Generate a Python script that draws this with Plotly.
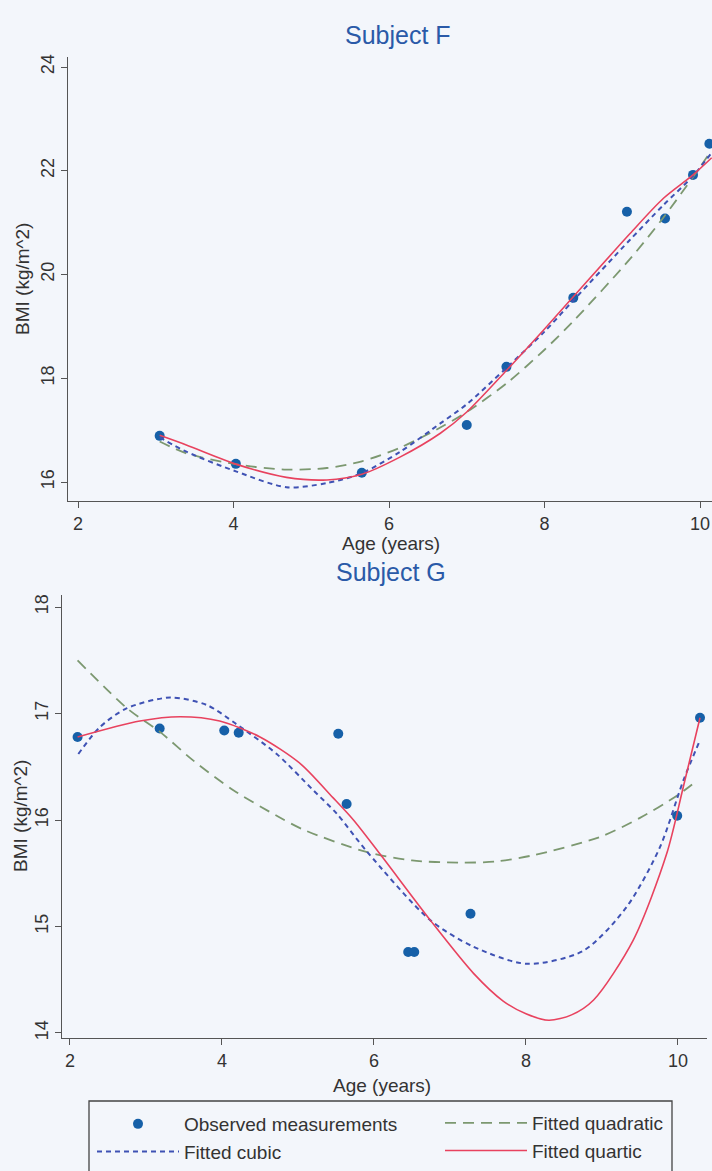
import plotly.graph_objects as go

# ---------------- data ----------------
# Subject F observed
f_age = [3.05, 4.03, 5.65, 7.00, 7.51, 8.37, 9.06, 9.55, 9.91, 10.12]
f_bmi = [16.89, 16.35, 16.18, 17.10, 18.22, 19.55, 21.21, 21.08, 21.92, 22.52]

# Subject F fitted curves (sampled along the drawn curves)
f_fit_age = [3.05, 3.4, 4.04, 4.68, 5.2, 5.65, 6.14, 6.66, 7.0, 7.51, 8.0, 8.37, 9.1, 9.53, 9.91, 10.15]
f_quad = [16.78, 16.55, 16.34, 16.24, 16.27, 16.40, 16.66, 17.05, 17.35, 17.90, 18.55, 19.10, 20.30, 21.10, 21.88, 22.40]
f_cubic = [16.86, 16.58, 16.20, 15.90, 15.98, 16.17, 16.58, 17.13, 17.50, 18.20, 18.90, 19.50, 20.67, 21.34, 21.90, 22.35]
f_quart = [16.90, 16.71, 16.34, 16.09, 16.04, 16.15, 16.48, 16.94, 17.35, 18.15, 18.95, 19.57, 20.79, 21.47, 21.92, 22.25]

# Subject G observed
g_age = [2.10, 3.18, 4.03, 4.22, 5.53, 5.64, 6.45, 6.53, 7.27, 9.99, 10.29]
g_bmi = [16.78, 16.86, 16.84, 16.82, 16.81, 16.15, 14.76, 14.76, 15.12, 16.04, 16.96]

# Subject G fitted curves
g_quad_age = [2.1, 2.75, 3.18, 3.62, 4.15, 4.72, 5.07, 5.9, 6.5, 7.13, 7.6, 8.1, 8.97, 9.5, 9.99, 10.25]
g_quad = [17.50, 17.05, 16.83, 16.56, 16.28, 16.04, 15.91, 15.70, 15.62, 15.60, 15.61, 15.67, 15.84, 16.02, 16.23, 16.37]

g_cubic_age = [2.11, 2.39, 2.75, 3.32, 3.8, 4.19, 4.72, 5.2, 5.51, 5.9, 6.74, 7.31, 8.01, 8.75, 9.32, 9.76, 10.07, 10.29]
g_cubic = [16.62, 16.87, 17.05, 17.15, 17.08, 16.90, 16.62, 16.28, 16.06, 15.71, 15.06, 14.81, 14.65, 14.77, 15.18, 15.74, 16.37, 16.75]

g_quart_age = [2.1, 2.92, 3.45, 3.97, 4.5, 5.03, 5.46, 5.73, 6.08, 6.74, 7.31, 7.7, 8.0, 8.3, 8.6, 8.89, 9.41, 9.85, 10.07, 10.29]
g_quart = [16.78, 16.93, 16.97, 16.93, 16.78, 16.53, 16.21, 16.00, 15.68, 15.06, 14.56, 14.30, 14.18, 14.12, 14.17, 14.31, 14.87, 15.68, 16.31, 16.96]

f_xticks = [2, 4, 6, 8, 10]
f_yticks = [16, 18, 20, 22, 24]
g_xticks = [2, 4, 6, 8, 10]
g_yticks = [14, 15, 16, 17, 18]

# ---------------- styling ----------------
W, H = 712, 1171
BG = "#f3f6fb"
FONT = "Liberation Sans, Arial, sans-serif"
MARK = "#1660a8"
QUAD = "#7c9870"
CUBIC = "#3f52b4"
QUART = "#e8425e"
AXC = "#555555"
TXT = "#333333"
TITLE = "#2a5aa8"


def px_x(p):
    return p / W


def px_y(p):
    return 1 - p / H


fig = go.Figure()


def add_panel(ax, obs_x, obs_y, qx, qy, cx, cy, rx, ry, legend):
    xa = "x" if ax == 1 else "x%d" % ax
    ya = "y" if ax == 1 else "y%d" % ax
    fig.add_trace(go.Scatter(x=obs_x, y=obs_y, mode="markers", name="Observed measurements",
                             marker=dict(color=MARK, size=10), xaxis=xa, yaxis=ya,
                             showlegend=legend, legend="legend"))
    fig.add_trace(go.Scatter(x=qx, y=qy, mode="lines", name="Fitted quadratic",
                             line=dict(color=QUAD, width=1.8, dash="11px,7px", shape="spline", smoothing=0.8),
                             xaxis=xa, yaxis=ya, showlegend=legend, legend="legend2"))
    fig.add_trace(go.Scatter(x=cx, y=cy, mode="lines", name="Fitted cubic",
                             line=dict(color=CUBIC, width=2, dash="5px,4px", shape="spline", smoothing=0.8),
                             xaxis=xa, yaxis=ya, showlegend=legend, legend="legend"))
    fig.add_trace(go.Scatter(x=rx, y=ry, mode="lines", name="Fitted quartic",
                             line=dict(color=QUART, width=1.6, shape="spline", smoothing=0.8),
                             xaxis=xa, yaxis=ya, showlegend=legend, legend="legend2"))


add_panel(1, f_age, f_bmi, f_fit_age, f_quad, f_fit_age, f_cubic, f_fit_age, f_quart, True)
add_panel(2, g_age, g_bmi, g_quad_age, g_quad, g_cubic_age, g_cubic, g_quart_age, g_quart, False)

axis_common = dict(showline=True, linecolor=AXC, linewidth=1.2, ticks="outside", ticklen=6,
                   tickcolor=AXC, showgrid=False, zeroline=False,
                   tickfont=dict(family=FONT, size=18, color=TXT))

leg_common = dict(orientation="v", xanchor="left", yanchor="top", bgcolor="rgba(0,0,0,0)",
                  borderwidth=0, font=dict(family=FONT, size=19, color=TXT),
                  itemwidth=82, traceorder="normal", tracegroupgap=0)

fig.update_layout(
    width=W, height=H, margin=dict(l=0, r=0, t=0, b=0, autoexpand=False),
    paper_bgcolor=BG, plot_bgcolor=BG,
    font=dict(family=FONT, color=TXT),
    xaxis=dict(domain=[px_x(68), 1.0], range=[1.871, 10.154], tickvals=f_xticks, anchor="y",
               **axis_common),
    yaxis=dict(domain=[px_y(501), px_y(57)], range=[15.634, 24.193], tickvals=f_yticks,
               tickangle=-90, anchor="x", **axis_common),
    xaxis2=dict(domain=[px_x(62), px_x(707)], range=[1.895, 10.382], tickvals=g_xticks, anchor="y2",
                **axis_common),
    yaxis2=dict(domain=[px_y(1038), px_y(595)], range=[13.953, 18.113], tickvals=g_yticks,
                tickangle=-90, anchor="x2", **axis_common),
    showlegend=True,
    legend=dict(x=px_x(92), y=px_y(1105), **leg_common),
    legend2=dict(x=px_x(440), y=px_y(1104), **leg_common),
)

# legend frame
fig.add_shape(type="rect", xref="paper", yref="paper",
              x0=px_x(89), x1=px_x(672), y0=px_y(1180), y1=px_y(1101),
              line=dict(color="#444444", width=1.3), fillcolor="rgba(0,0,0,0)", layer="below")


def ann(text, x, y, size, color=TXT, angle=0):
    fig.add_annotation(text=text, x=px_x(x), y=px_y(y), xref="paper", yref="paper",
                       showarrow=False, xanchor="center", yanchor="middle", textangle=angle,
                       font=dict(family=FONT, size=size, color=color))


ann("Subject F", 398, 35, 25, TITLE)
ann("Subject G", 391, 572, 25, TITLE)
ann("Age (years)", 391, 544, 19)
ann("Age (years)", 382, 1085, 19)
ann("BMI (kg/m^2)", 22, 279, 19, angle=-90)
ann("BMI (kg/m^2)", 20, 816, 19, angle=-90)

fig.write_html("out.html", config={"displayModeBar": False},
               post_script="document.body.style.margin='0';document.body.style.padding='0';")
